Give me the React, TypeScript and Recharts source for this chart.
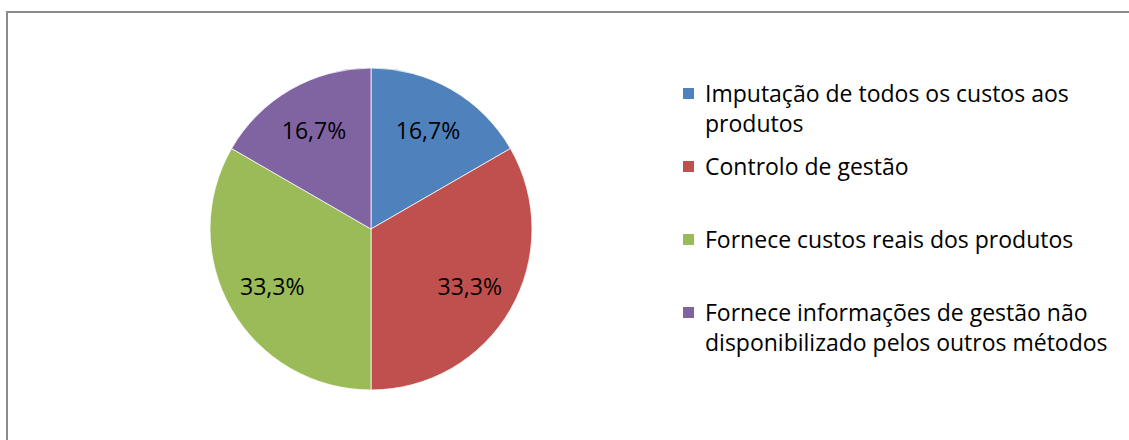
import { PieChart, Pie, Cell, Legend } from 'recharts'

// categories and shares (1 : 2 : 2 : 1)
const categories = [
  'Imputação de todos os custos aos produtos',
  'Controlo de gestão',
  'Fornece custos reais dos produtos',
  'Fornece informações de gestão não disponibilizado pelos outros métodos',
]
const counts = [1, 2, 2, 1]
const colors = ['#4F81BD', '#C0504D', '#9BBB59', '#8064A2']

const data = categories.map((name, i) => ({ name, value: counts[i] }))

const FONT = '"Open Sans", sans-serif'
const RAD = Math.PI / 180

interface LabelProps { cx?: number; cy?: number; midAngle?: number; percent?: number }

function renderLabel({ cx = 0, cy = 0, midAngle = 0, percent = 0 }: LabelProps) {
  const r = 114
  const x = cx + r * Math.cos(-midAngle * RAD)
  const y = cy + r * Math.sin(-midAngle * RAD)
  const txt = (percent * 100).toFixed(1).replace('.', ',') + '%'
  return (
    <text x={x} y={y} textAnchor="middle" dominantBaseline="central" fill="#000" fontSize={23} fontFamily={FONT}>
      {txt}
    </text>
  )
}

interface LegendEntry { value?: string; color?: string }

function renderLegend({ payload }: { payload?: LegendEntry[] }) {
  // keep the slice order, not the library's alphabetical sort
  const items = [...(payload ?? [])].sort(
    (a, b) => categories.indexOf(a.value ?? '') - categories.indexOf(b.value ?? ''),
  )
  return (
    <div style={{ fontFamily: FONT, fontSize: 23, lineHeight: '30px', color: '#000' }}>
      {items.map((p, i) => (
        <div key={i} style={{ display: 'flex', height: 73, alignItems: 'flex-start' }}>
          <span style={{ width: 11, height: 11, background: p.color, marginTop: 10, marginRight: 11, flexShrink: 0 }} />
          <span style={{ width: 420 }}>{p.value}</span>
        </div>
      ))}
    </div>
  )
}

export default function App() {
  return (
    <div style={{ position: 'absolute', left: 0, top: 0, width: 1129, height: 440, overflow: 'hidden', background: '#fff' }}>
      <div
        style={{
          position: 'absolute', left: 6, top: 11, width: 1200, height: 500,
          borderTop: '2px solid #8a8a8a', borderLeft: '2px solid #8a8a8a',
        }}
      />
      <div style={{ position: 'absolute', left: 0, top: 0 }}>
        <PieChart width={1129} height={440} margin={{ top: 0, right: 0, bottom: 0, left: 0 }}>
          <Pie
            data={data}
            dataKey="value"
            nameKey="name"
            cx={371}
            cy={229}
            outerRadius={161}
            startAngle={90}
            endAngle={-270}
            stroke="#ffffff"
            strokeWidth={0.75}
            label={renderLabel}
            labelLine={false}
            isAnimationActive={false}
          >
            {data.map((_, i) => (
              <Cell key={i} fill={colors[i]} />
            ))}
          </Pie>
          <Legend
            layout="vertical"
            align="right"
            verticalAlign="top"
            content={renderLegend}
            wrapperStyle={{ left: 683, top: 78, width: 440 }}
          />
        </PieChart>
      </div>
    </div>
  )
}
